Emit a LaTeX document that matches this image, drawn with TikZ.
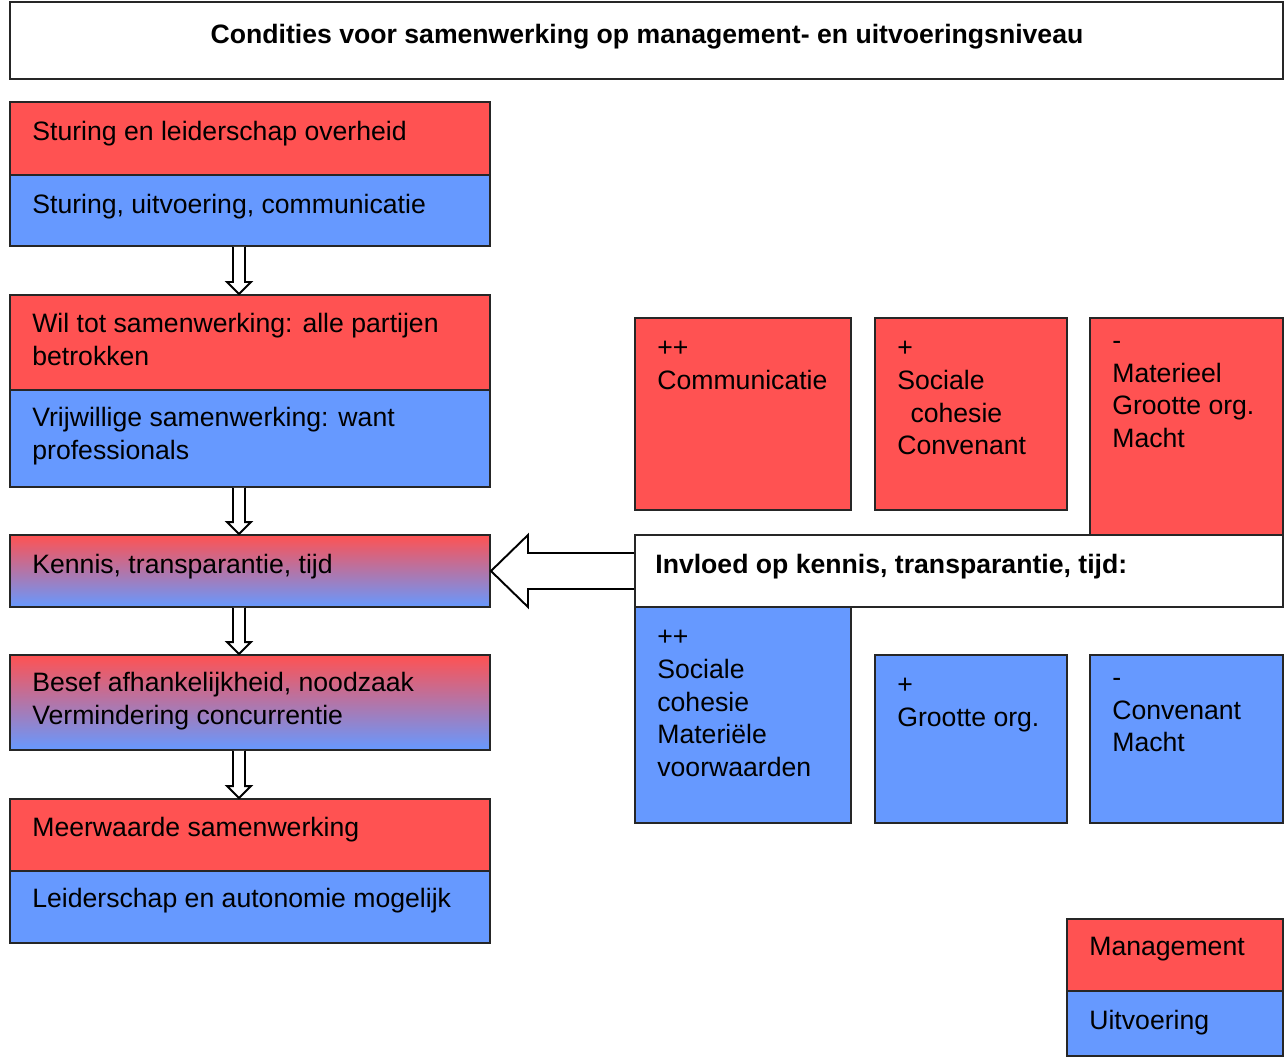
\documentclass[tikz,border=0pt]{standalone}
\usepackage{fontspec}
\setmainfont{Liberation Sans}
\usetikzlibrary{calc,fit}
\definecolor{mred}{rgb}{1,0.32,0.32}
\definecolor{mblue}{rgb}{0.4,0.6,1}

\tikzset{
  box/.style={draw=black!85, line width=1.1pt, inner sep=0pt},
  txt/.style={anchor=north west, inner sep=0pt, align=left, font=\fontsize{15.15}{18.6}\selectfont,
    execute at begin node=\strut},
  hollow/.style={draw=black, fill=white, line width=1.1pt, line join=miter},
}

\begin{document}
\begin{tikzpicture}[x=0.02cm,y=-0.02cm]
	\useasboundingbox (0,0) rectangle (1284,1057);
	% titel
	\node[box, fill=white, fit={(10,2)(1283,79)}] (title) {};
	\node[txt, anchor=base, font=\bfseries\fontsize{15.15}{18.6}\selectfont] (tTitle) at (647,44) {Condities voor samenwerking op management- en uitvoeringsniveau};

	% linker kolom
	\node[box, fill=mred, fit={(10,102)(490,175)}] (stur) {};
	\node[box, fill=mblue, fit={(10,175)(490,246)}] (sturU) {};
	\node[box, fill=mred, fit={(10,295)(490,390)}] (wil) {};
	\node[box, fill=mblue, fit={(10,390)(490,487)}] (wilU) {};
	\node[box, top color=mred, bottom color=mblue, fit={(10,535)(490,607)}] (kennis) {};
	\node[box, top color=mred, bottom color=mblue, fit={(10,655)(490,750)}] (besef) {};
	\node[box, fill=mred, fit={(10,799)(490,871)}] (meer) {};
	\node[box, fill=mblue, fit={(10,871)(490,943)}] (meerU) {};

	\node[txt] (tStur) at (32,117) {Sturing en leiderschap overheid};
	\node[txt] (tSturU) at (32,190) {Sturing, uitvoering, communicatie};
	\node[txt] (tWil) at (32,313) {Wil tot samenwerking: alle partijen\\betrokken};
	\node[txt] (tWilU) at (32,407) {Vrijwillige samenwerking: want\\professionals};
	\node[txt] (tKennis) at (32,550) {Kennis, transparantie, tijd};
	\node[txt] (tBesef) at (32,672) {Besef afhankelijkheid, noodzaak\\Vermindering concurrentie};
	\node[txt] (tMeer) at (32,813) {Meerwaarde samenwerking};
	\node[txt] (tMeerU) at (32,884) {Leiderschap en autonomie mogelijk};

	% pijlen
	\foreach \a/\b in {sturU/wil, wilU/kennis, kennis/besef, besef/meer}{
		\draw[hollow] ($(\a.south)+(-17,0)$) -- ($(\b.north)+(-17,-12)$) -- ($(\b.north)+(-23,-12)$)
			-- ($(\b.north)+(-11,0)$) -- ($(\b.north)+(1,-12)$) -- ($(\b.north)+(-5,-12)$) -- ($(\a.south)+(-5,0)$);
	}

	% rechts: management
	\node[box, fill=mred, fit={(635,318)(851,510)}] (mPP) {};
	\node[box, fill=mred, fit={(875,318)(1067,510)}] (mP) {};
	\node[box, fill=mred, fit={(1090,318)(1283,535)}] (mM) {};
	\node[txt] (tmPP) at (657,341) {++\\Communicatie};
	\node[txt] (tmP) at (897,341) {+\\Sociale\\\hspace*{7.5pt}cohesie\\Convenant};
	\node[txt] (tmM) at (1112,341) {-\\Materieel\\Grootte org.\\Macht};

	% invloed
	\coordinate (invW) at (635,571);
	\draw[hollow] (invW) ++(0,-18) -- ($(kennis.east)+(37,-18)$) -- ($(kennis.east)+(37,-36)$)
		-- (kennis.east) -- ($(kennis.east)+(37,36)$) -- ($(kennis.east)+(37,18)$) -- ($(invW)+(0,18)$);
	\node[box, fill=white, fit={(635,535)(1283,607)}] (invl) {};
	\node[txt, font=\bfseries\fontsize{15.15}{18.6}\selectfont] (tInvl) at (655,550) {Invloed op kennis, transparantie, tijd:};

	% rechts: uitvoering
	\node[box, fill=mblue, fit={(635,607)(851,823)}] (uPP) {};
	\node[box, fill=mblue, fit={(875,655)(1067,823)}] (uP) {};
	\node[box, fill=mblue, fit={(1090,655)(1283,823)}] (uM) {};
	\node[txt] (tuPP) at (657,630) {++\\Sociale\\cohesie\\Materiële\\voorwaarden};
	\node[txt] (tuP) at (897,678) {+\\Grootte org.};
	\node[txt] (tuM) at (1112,678) {-\\Convenant\\Macht};

	% legenda
	\node[box, fill=mred, fit={(1067,919)(1283,991)}] (legM) {};
	\node[box, fill=mblue, fit={(1067,991)(1283,1056)}] (legU) {};
	\node[txt] (tLegM) at (1089,932) {Management};
	\node[txt] (tLegU) at (1089,1006) {Uitvoering};
\end{tikzpicture}
\end{document}
